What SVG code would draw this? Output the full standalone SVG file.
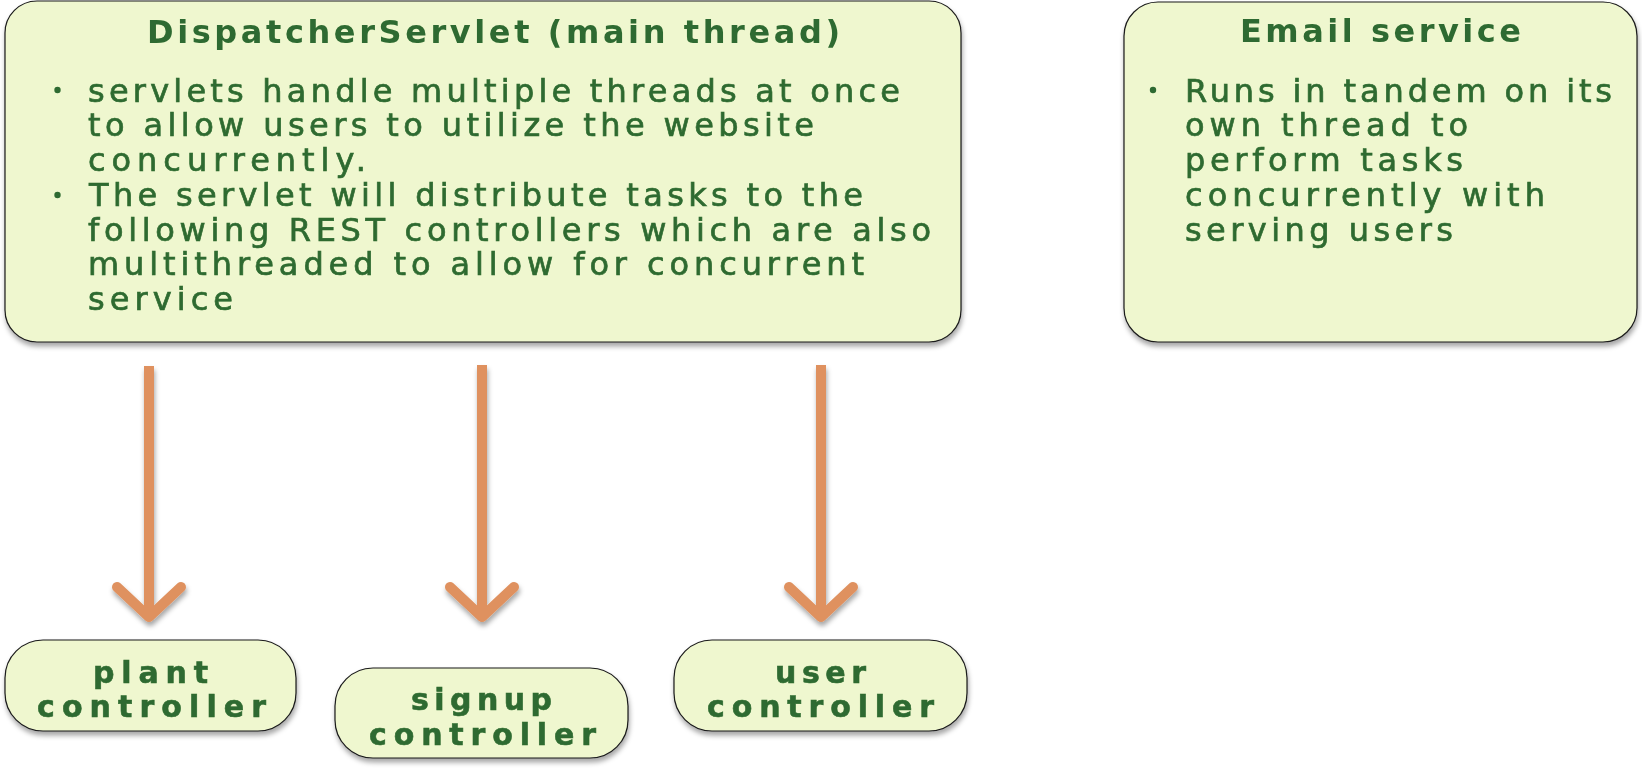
<svg xmlns="http://www.w3.org/2000/svg" width="1642" height="768" viewBox="0 0 1642 768">
  <style>
    .box { fill: #EFF7CF; stroke: #1a1a1a; stroke-width: 1.2; }
    .title { font-family: "DejaVu Sans", "Verdana", sans-serif; font-weight: bold; font-size: 32px; fill: #2E6B30; }
    .body { font-family: "DejaVu Sans", "Verdana", sans-serif; font-size: 32px; fill: #2E6B30; stroke: #2E6B30; stroke-width: 0.7; }
    .lbl { font-family: "DejaVu Sans", "Verdana", sans-serif; font-weight: bold; font-size: 30px; fill: #2E6B30; stroke: #2E6B30; stroke-width: 0.6; }
    .bullet { fill: #2E6B30; }
    .conn { fill: none; stroke: #DF915F; stroke-width: 10; }
  </style>
  <defs>
    <filter id="sh" x="-10%" y="-10%" width="125%" height="135%">
      <feDropShadow dx="1" dy="4" stdDeviation="2.5" flood-color="#000" flood-opacity="0.35"/>
    </filter>
    <marker id="chev" markerUnits="userSpaceOnUse" orient="auto" overflow="visible" markerWidth="1" markerHeight="1" refX="0" refY="0">
      <path d="M-30,-32 L0,0 L-30,32" fill="none" stroke="#DF915F" stroke-width="10" stroke-linecap="round" stroke-linejoin="round"/>
    </marker>
  </defs>

  <g id="dispatcher" filter="url(#sh)">
    <rect class="box" x="5" y="1" width="956" height="341" rx="32" ry="32"/>
    <text class="title" x="147" y="43" textLength="693">DispatcherServlet (main thread)</text>
    <circle class="bullet" cx="57.5" cy="90" r="3.2"/>
    <circle class="bullet" cx="57.5" cy="195" r="3.2"/>
    <text class="body" x="88" y="101.7" textLength="812">servlets handle multiple threads at once</text>
    <text class="body" x="88" y="136.4" textLength="726">to allow users to utilize the website</text>
    <text class="body" x="88" y="171.1" textLength="278">concurrently.</text>
    <text class="body" x="89" y="205.8" textLength="774">The servlet will distribute tasks to the</text>
    <text class="body" x="88" y="240.5" textLength="843">following REST controllers which are also</text>
    <text class="body" x="88" y="275.2" textLength="776">multithreaded to allow for concurrent</text>
    <text class="body" x="88" y="309.9" textLength="145">service</text>
  </g>

  <g id="email" filter="url(#sh)">
    <rect class="box" x="1124" y="2" width="513" height="340" rx="34" ry="34"/>
    <text class="title" x="1240" y="42" textLength="281">Email service</text>
    <circle class="bullet" cx="1153" cy="90" r="3.2"/>
    <text class="body" x="1185" y="101.7" textLength="427">Runs in tandem on its</text>
    <text class="body" x="1185" y="136.4" textLength="283">own thread to</text>
    <text class="body" x="1185" y="171.1" textLength="278">perform tasks</text>
    <text class="body" x="1185" y="205.8" textLength="360">concurrently with</text>
    <text class="body" x="1185" y="240.5" textLength="268">serving users</text>
  </g>

  <g id="plant" filter="url(#sh)">
    <rect class="box" x="5" y="640" width="291" height="91" rx="38" ry="38"/>
    <text class="lbl" x="93" y="683" textLength="115">plant</text>
    <text class="lbl" x="37" y="717" textLength="229">controller</text>
  </g>

  <g id="signup" filter="url(#sh)">
    <rect class="box" x="335" y="668" width="293" height="90" rx="38" ry="38"/>
    <text class="lbl" x="411" y="710" textLength="141">signup</text>
    <text class="lbl" x="369" y="745" textLength="227">controller</text>
  </g>

  <g id="user" filter="url(#sh)">
    <rect class="box" x="674" y="640" width="293" height="91" rx="38" ry="38"/>
    <text class="lbl" x="775" y="683" textLength="91">user</text>
    <text class="lbl" x="707" y="717" textLength="227">controller</text>
  </g>

  <g id="connectors" filter="url(#sh)">
    <path class="conn" d="M149,366 V617" marker-end="url(#chev)"/>
    <path class="conn" d="M482,365 V617" marker-end="url(#chev)"/>
    <path class="conn" d="M821,365 V617" marker-end="url(#chev)"/>
  </g>
</svg>
